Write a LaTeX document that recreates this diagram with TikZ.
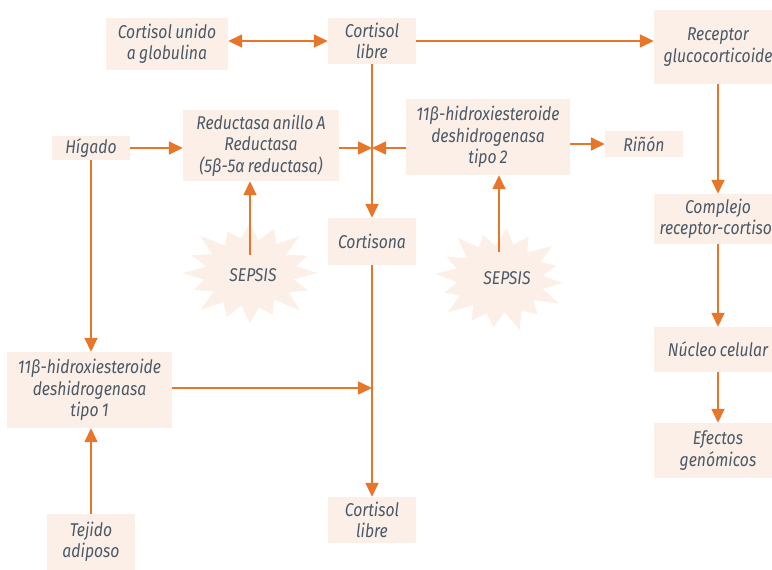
\documentclass[tikz,border=0pt]{standalone}
\usepackage{fontspec}
\setmainfont{Fira Sans}[FakeStretch=0.85, WordSpace=0.8]
\usetikzlibrary{arrows.meta}
\definecolor{boxfill}{HTML}{FBEFE7}
\definecolor{arrowc}{HTML}{E8762A}
\definecolor{txt}{HTML}{4B5966}
\begin{document}
\begin{tikzpicture}[x=1pt,y=-1pt,
  box/.style={fill=boxfill, text=txt, align=center, inner sep=0pt,
    font=\fontsize{18.5}{21.5}\selectfont\itshape},
  label/.style={text=txt, inner sep=0pt, font=\fontsize{18.5}{21.5}\selectfont\itshape},
  link/.style={draw=arrowc, line width=1.6pt, -{Triangle[length=14pt,width=13pt]}},
  both/.style={draw=arrowc, line width=1.6pt, {Triangle[length=14pt,width=13pt]}-{Triangle[length=14pt,width=13pt]}}]
\useasboundingbox (0,0) rectangle (772,570);
\clip (0,0) rectangle (772,570);

% top row
\node[box, minimum width=122pt, minimum height=52pt] (unido) at (167,44) {Cortisol unido\\a globulina};
\node[box, minimum width=88pt, minimum height=46pt] (libre1) at (372,41) {Cortisol\\libre};
\node[box, minimum width=128pt, minimum height=74pt] (recep) at (718,47) {Receptor\\glucocorticoide};

% enzymes and tissues
\node[box, minimum width=78pt, minimum height=24pt] (higado) at (91,148) {Hígado};
\node[box, minimum width=156pt, minimum height=71pt] (reduct) at (261,145.5) {Reductasa anillo A\\Reductasa\\(5β-5α reductasa)};
\node[box, minimum width=164pt, minimum height=76pt] (hsd2) at (488,137) {11β-hidroxiesteroide\\deshidrogenasa\\tipo 2};
\node[box, minimum width=78pt, minimum height=26pt] (rinon) at (644,144) {Riñón};
\node[box, minimum width=88pt, minimum height=47pt] (cortisona) at (372,241.5) {Cortisona};
\node[box, minimum width=165pt, minimum height=76pt] (hsd1) at (89.5,390) {11β-hidroxiesteroide\\deshidrogenasa\\tipo 1};
\node[box, minimum width=88pt, minimum height=56pt] (tejido) at (91,542) {Tejido\\adiposo};
\node[box, minimum width=88pt, minimum height=46pt] (libre2) at (372,520) {Cortisol\\libre};

% right column
\node[box, minimum width=128pt, minimum height=50pt] (complejo) at (718,219) {Complejo\\receptor-cortisol};
\node[box, minimum width=128pt, minimum height=45pt] (nucleo) at (718,349.5) {Núcleo celular};
\node[box, minimum width=128pt, minimum height=55pt] (efectos) at (718,450.5) {Efectos\\genómicos};

% sepsis bursts: spiky stars drawn as closed polylines
\fill[boxfill, shift={(250,273)}] (67,0)
  \foreach \a/\r in {11/0.66,22/0.93,34/0.7,45/1.05,56/0.64,68/0.9,79/0.7,90/1.0,
    101/0.66,112/0.95,124/0.7,135/1.04,146/0.65,158/0.9,169/0.7,180/1.0,
    191/0.66,202/0.94,214/0.68,225/1.05,236/0.66,248/0.9,259/0.7,270/1.0,
    281/0.66,292/0.95,304/0.7,315/1.04,326/0.65,338/0.92,349/0.7}
  { -- ({67*\r*cos(\a)},{50*\r*sin(\a)}) } -- cycle;
\fill[boxfill, shift={(500,279)}] ({65*0.96*cos(5)},{51*0.96*sin(5)})
  \foreach \a/\r in {16/0.68,28/1.02,39/0.66,50/0.9,62/0.7,73/1.04,84/0.65,96/0.95,
    107/0.7,118/0.92,129/0.66,141/1.03,152/0.7,163/0.9,174/0.66,186/1.0,
    197/0.7,208/0.93,219/0.65,231/1.04,242/0.7,253/0.9,264/0.66,276/1.0,
    287/0.7,298/0.94,309/0.66,321/1.03,332/0.7,343/0.9,354/0.66}
  { -- ({65*\r*cos(\a)},{51*\r*sin(\a)}) } -- cycle;
\node[label] (sep1) at (253,275) {SEPSIS};
\node[label] (sep2) at (507,278) {SEPSIS};

% junction points on the central line and arrow starts inside the bursts
\coordinate (j1) at (372,148);
\coordinate (j2) at (372,388);
\coordinate (s1) at (250,255);
\coordinate (s2) at (499,252);

% connectors
\draw[both] (unido.east |- libre1.west) -- (libre1.west);
\draw[link] (libre1.east) -- (recep.west |- libre1.east);
\draw[link] (libre1.south) -- (cortisona.north);
\draw[link] (higado.east) -- (reduct.west |- higado.east);
\draw[link] (reduct.east |- j1) -- (j1);
\draw[link] (hsd2.west |- j1) -- (j1);
\draw[link] (hsd2.east |- rinon.west) -- (rinon.west);
\draw[link] (s1) -- (s1 |- reduct.south);
\draw[link] (s2) -- (s2 |- hsd2.south);
\draw[link] (cortisona.south) -- (libre2.north);
\draw[link] (higado.south) -- (hsd1.north -| higado.south);
\draw[link] (hsd1.east |- j2) -- (j2);
\draw[link] (tejido.north) -- (tejido.north |- hsd1.south);
\draw[link] (recep.south) -- (complejo.north);
\draw[link] (complejo.south) -- (nucleo.north);
\draw[link] (nucleo.south) -- (efectos.north);
\end{tikzpicture}
\end{document}
